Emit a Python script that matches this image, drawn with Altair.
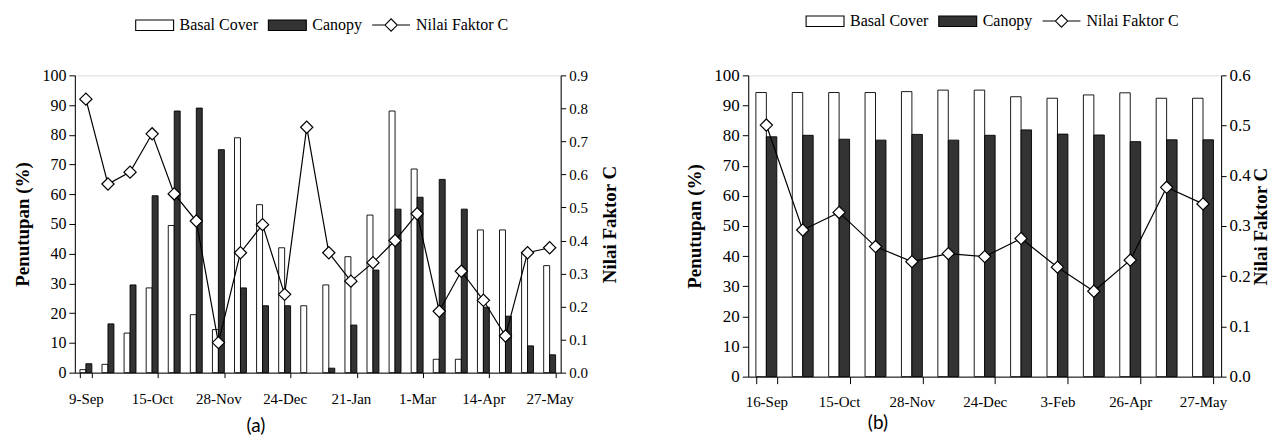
import json
import altair as alt
import pandas as pd

SERIES = ["Basal Cover", "Canopy", "Nilai Faktor C"]

# ---------------- Panel (a) ----------------
a_basal = [1, 2.8, 13.3, 28.5, 49.5, 19.5, 14.5, 79, 56.5, 42, 22.5,
           29.5, 39, 53, 88, 68.5, 4.5, 4.5, 48, 48, 40.5, 36]
a_canopy = [3, 16.4, 29.5, 59.5, 88, 89, 75, 28.5, 22.5, 22.5, 0,
            1.5, 16, 34.5, 55, 59, 65, 55, 22, 19, 9, 6]
a_cfac = [0.828, 0.571, 0.607, 0.723, 0.541, 0.459, 0.091, 0.363, 0.448, 0.237, 0.743,
          0.363, 0.277, 0.333, 0.400, 0.481, 0.186, 0.307, 0.219, 0.111, 0.363, 0.378]
a_labels = ["9-Sep", "15-Oct", "28-Nov", "24-Dec", "21-Jan", "1-Mar", "14-Apr", "27-May"]
a_every = 3

# ---------------- Panel (b) ----------------
b_basal = [94.3, 94.3, 94.3, 94.3, 94.6, 95.1, 95.1, 92.9, 92.4, 93.5, 94.2, 92.4, 92.4]
b_canopy = [79.6, 80.1, 78.8, 78.5, 80.4, 78.5, 80.1, 81.9, 80.5, 80.2, 78.0, 78.6, 78.6]
b_cfac = [0.501, 0.292, 0.327, 0.259, 0.229, 0.245, 0.239, 0.275, 0.218, 0.170, 0.232, 0.377, 0.344]
b_labels = ["16-Sep", "15-Oct", "28-Nov", "24-Dec", "3-Feb", "26-Apr", "27-May"]
b_every = 2

SERIF = "Liberation Serif"
RECT = "M-1,-0.55H3V0.55H-1Z"
LINESYM = "M-1,0H0.35M1.65,0H3M0.35,0L1,-0.65L1.65,0L1,0.65Z"


def panel(basal, canopy, cfac, labels, every, cmax, width, height,
          pin, pout, lfs, rfs, xpad, xtick, rtpad, legx, legy, caption, capdx, capoff):
    n = len(basal)
    bars = pd.DataFrame({
        "idx": list(range(n)) * 2,
        "series": [SERIES[0]] * n + [SERIES[1]] * n,
        "value": basal + canopy,
    })
    cdf = pd.DataFrame({"idx": list(range(n)), "series": [SERIES[2]] * n, "c": cfac})

    full = [""] * n
    for k, lab in enumerate(labels):
        full[k * every] = lab
    label_expr = json.dumps(full) + "[datum.value]"

    xenc = alt.X("idx:O",
                 scale=alt.Scale(paddingInner=pin, paddingOuter=pout),
                 axis=alt.Axis(values=list(range(0, n, every)), labelExpr=label_expr,
                               tickBand="extent", labelAngle=0, title=None,
                               labelFont=SERIF, labelFontSize=15, labelPadding=xpad,
                               tickSize=xtick, labelColor="black",
                               domainColor="black", tickColor="black"))

    legend = alt.Legend(title=None, orient="none", legendX=legx, legendY=legy,
                        direction="horizontal", symbolSize=361,
                        labelFont=SERIF, labelFontSize=16, labelColor="black",
                        labelOffset=24, columnPadding=7, symbolStrokeWidth=1.1,
                        symbolOpacity=1)
    fill_scale = alt.Scale(domain=SERIES, range=["white", "#333333", "white"])
    stroke_scale = alt.Scale(domain=SERIES, range=["black", "black", "black"])
    shape_scale = alt.Scale(domain=SERIES, range=[RECT, RECT, LINESYM])

    left_axis = alt.Axis(values=list(range(0, 101, 10)), title="Penutupan (%)",
                         titleFont=SERIF, titleFontSize=19, titleFontWeight="bold",
                         titlePadding=9, titleColor="black",
                         labelFont=SERIF, labelFontSize=lfs, labelPadding=3,
                         labelColor="black", tickSize=6, grid=False, orient="left",
                         domainColor="black", tickColor="black")
    right_axis = alt.Axis(values=[round(i * 0.1, 1) for i in range(int(round(cmax * 10)) + 1)],
                          format=".1f", title="Nilai Faktor C", titleAngle=270,
                          titleFont=SERIF, titleFontSize=19, titleFontWeight="bold",
                          titlePadding=rtpad, titleColor="black",
                          labelFont=SERIF, labelFontSize=rfs, labelPadding=3,
                          labelColor="black", tickSize=5, grid=False, orient="right",
                          domainColor="black", tickColor="black")

    bar_layer = alt.Chart(bars).transform_filter("datum.value > 0").mark_bar(strokeWidth=0.9).encode(
        x=xenc,
        xOffset=alt.XOffset("series:N", scale=alt.Scale(domain=SERIES[:2], paddingInner=0, paddingOuter=0)),
        y=alt.Y("value:Q", scale=alt.Scale(domain=[0, 100], nice=False), axis=left_axis),
        fill=alt.Fill("series:N", scale=fill_scale, legend=legend),
        stroke=alt.Stroke("series:N", scale=stroke_scale, legend=legend),
    )

    yc = alt.Y("c:Q", scale=alt.Scale(domain=[0, cmax], nice=False), axis=right_axis)
    line_layer = alt.Chart(cdf).mark_line(color="black", strokeWidth=1.2).encode(x=xenc, y=yc)
    pt_layer = alt.Chart(cdf).mark_point(shape="diamond", filled=True, fill="white",
                                          stroke="black", strokeWidth=1.2, size=150,
                                          opacity=1).encode(x=xenc, y=yc)
    hidden = alt.Chart(cdf).mark_point(filled=True, opacity=0).encode(
        x=xenc, y=yc,
        fill=alt.Fill("series:N", scale=fill_scale, legend=legend),
        stroke=alt.Stroke("series:N", scale=stroke_scale, legend=legend),
        shape=alt.Shape("series:N", scale=shape_scale, legend=legend),
    )
    c_layers = alt.layer(line_layer, pt_layer, hidden)

    return alt.layer(bar_layer, c_layers).resolve_scale(y="independent").properties(
        width=width, height=height,
        title=alt.TitleParams(text=caption, orient="bottom", anchor="middle", frame="group",
                              dx=capdx, offset=capoff, font="Lato", fontSize=19,
                              fontWeight="normal", color="black"),
    )


pa = panel(a_basal, a_canopy, a_cfac, a_labels, a_every, 0.9, 487, 298,
           0.46, 0.23, 16, 15, 14, 5, 32, 60, -61, "(a)", -62, 10)
pb = panel(b_basal, b_canopy, b_cfac, b_labels, b_every, 0.6, 474, 302,
           0.425, 0.21, 17, 17, 11, 7, 20, 57, -65, "(b)", -107, 4)

chart = alt.hconcat(pa, pb, spacing=65).resolve_scale(
    fill="independent", stroke="independent", shape="independent",
    x="independent", y="independent", xOffset="independent"
).resolve_legend(
    fill="independent", stroke="independent", shape="independent"
).properties(
    padding={"left": 5, "top": 1, "right": 0, "bottom": 0}
).configure_view(stroke="#888888", strokeWidth=1).configure(background="white")

chart.save("out.html", embed_options={"renderer": "svg", "actions": False})
